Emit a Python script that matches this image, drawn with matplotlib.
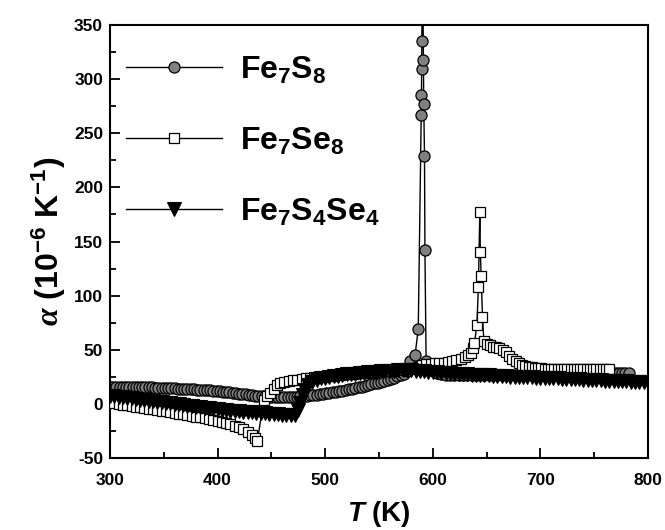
import numpy as np
import matplotlib.pyplot as plt
from matplotlib.ticker import MultipleLocator

plt.rcParams['font.family'] = 'Liberation Sans'
plt.rcParams['font.weight'] = 'bold'
plt.rcParams['axes.unicode_minus'] = False
plt.rcParams['mathtext.fontset'] = 'custom'
plt.rcParams['mathtext.rm'] = 'Liberation Sans:bold'
plt.rcParams['mathtext.bf'] = 'Liberation Sans:bold'
plt.rcParams['mathtext.it'] = 'Liberation Serif:italic'
plt.rcParams['mathtext.sf'] = 'Liberation Sans:bold:italic'
plt.rcParams['mathtext.default'] = 'bf'

#Fe7S8 (grey circles)
T_s8 = [300, 303, 306, 309, 312, 315, 318, 321, 324, 327,
        330, 333, 336, 339, 342, 345, 348, 351, 354, 357,
        360, 363, 366, 369, 372, 375, 378, 381, 384, 387,
        390, 393, 396, 399, 402, 405, 408, 411, 414, 417,
        420, 423, 426, 429, 432, 435, 438, 441, 444, 447,
        450, 453, 456, 459, 462, 465, 468, 471, 474, 477,
        480, 483, 486, 489, 492, 495, 498, 501, 504, 507,
        510, 513, 516, 519, 522, 525, 528, 531, 534, 537,
        540, 543, 546, 549, 552, 555, 558, 561, 564, 567,
        570, 573, 576,
        579, 583.5, 586.5, 589.3, 589.5, 589.6, 589.8, 590.5, 591.3, 591.6,
        592.3, 592.7, 593.8, 596,
        600, 604, 608, 612, 616, 620, 624, 628, 632, 636,
        640, 644, 648, 652, 656, 660, 664, 668, 672, 676,
        680, 684, 688, 692, 696, 700, 704, 708, 712, 716,
        720, 724, 728, 732, 736, 740, 744, 748, 752, 756,
        760, 764, 767, 770, 773, 776, 779, 782]
a_s8 = [16, 16, 16, 15.9, 15.9, 15.8, 15.7, 15.7, 15.6, 15.5,
        15.4, 15.4, 15.3, 15.2, 15.1, 15, 14.9, 14.8, 14.6, 14.5,
        14.4, 14.2, 14.1, 13.9, 13.8, 13.6, 13.4, 13.3, 13.1, 12.9,
        12.7, 12.4, 12.2, 11.9, 11.6, 11.3, 11, 10.7, 10.3, 10,
        9.6, 9.2, 8.8, 8.5, 8.1, 7.7, 7.4, 7.1, 7, 6.8,
        6.7, 6.7, 6.6, 6.6, 6.6, 6.6, 6.6, 6.7, 6.8, 7,
        7.3, 7.5, 7.8, 8.1, 8.5, 8.9, 9.3, 9.7, 10.2, 10.6,
        11.1, 11.6, 12.2, 12.8, 13.4, 14, 14.6, 15.3, 15.9, 16.6,
        17.4, 18.1, 18.9, 19.7, 20.6, 21.5, 22.4, 23.3, 24.3, 25.4,
        26.6, 28, 30,
        40, 45, 69, 267, 285, 309, 335, 420, 318, 277,
        229, 142, 40, 35,
        30, 28.5, 27.5, 27, 27, 26.8, 26.8, 26.6, 26.6, 26.5,
        26.5, 26.4, 26.4, 26.4, 26.4, 26.4, 26.5, 26.5, 26.6, 26.6,
        26.7, 26.8, 27, 27.2, 27.3, 27.4, 27.5, 27.6, 27.7, 27.8,
        27.9, 28, 28, 28.1, 28.2, 28.3, 28.4, 28.4, 28.5, 28.6,
        28.6, 28.7, 29, 29, 29, 29, 29, 28.8]

#Fe7Se8 (open squares)
T_se8 = [300, 304, 308, 312, 316, 320, 324, 328, 332, 336,
         340, 344, 348, 352, 356, 360, 364, 368, 372, 376,
         380, 384, 388, 392, 396, 400, 404, 408, 412, 416,
         420, 424, 428, 432, 435, 437,
         443, 446, 449, 452, 455, 458, 462, 466, 470, 474,
         478, 482, 486, 490, 494, 498, 502, 506, 510, 514,
         518, 522, 526, 530, 534, 538, 542, 546, 550, 554,
         558, 562, 566, 570, 575, 580, 586, 590, 594, 598,
         602, 606, 610, 614, 618, 622, 626, 630, 633,
         635.3, 637.6, 638.7, 641, 642.4, 643.7, 644.2, 645, 646.2, 647.5,
         650, 653, 656, 659, 662, 665, 668, 671, 674, 677,
         680, 683, 686, 689, 692, 695, 698, 701, 704, 707,
         710, 713, 716, 719, 722, 725, 728, 731, 734, 737,
         740, 743, 746, 749, 752, 755, 758, 761, 764]
a_se8 = [1, 0.4, -0.2, -0.8, -1.4, -2, -2.6, -3.2, -3.8, -4.4,
         -5, -5.5, -6.1, -6.8, -7.5, -8.2, -8.9, -9.6, -10.3, -11,
         -11.7, -12.4, -13.1, -13.8, -14.6, -15.5, -16.5, -17.6, -18.8, -20.2,
         -21.8, -23.6, -25.8, -28.5, -31.5, -34,
         4, 7, 10, 14, 17, 19.2, 20.2, 21, 21.8, 22.5,
         23, 23.5, 24, 24.4, 24.8, 25.2, 25.6, 26, 26.4, 26.8,
         27.2, 27.6, 28, 28.3, 28.6, 28.9, 29.2, 29.5, 29.8, 30.1,
         30.4, 30.7, 31, 31.3, 31.8, 32.5, 34.5, 35.8, 36.5, 37,
         37.4, 37.8, 38.2, 38.7, 39.4, 40.4, 41.8, 43.5, 45.5,
         47, 52, 56, 73, 108, 177, 140, 118, 80, 58,
         55, 54, 53, 52.5, 52, 50, 47.5, 44, 41.5, 39.5,
         37.5, 36, 35, 34.3, 33.8, 33.3, 33, 32.8, 32.7, 32.6,
         32.5, 32.5, 32.4, 32.4, 32.4, 32.3, 32.3, 32.3, 32.3, 32.2,
         32.2, 32.2, 32.2, 32.2, 32.2, 32.2, 32.2, 32.2, 32.2]

#Fe7S4Se4 (filled down triangles)
T_mix = [300, 304, 308, 312, 316, 320, 324, 328, 332, 336,
         340, 344, 348, 352, 356, 360, 364, 368, 372, 376,
         380, 384, 388, 392, 396, 400, 404, 408, 412, 416,
         420, 424, 428, 432, 436, 440, 444, 448, 452, 456,
         460, 464, 468, 472, 475, 477, 479, 481, 484, 488,
         492, 496, 500, 504, 508, 512, 516, 520, 524, 528,
         532, 536, 540, 544, 548, 552, 556, 560, 564, 568,
         572, 576, 580, 584, 588, 592, 596, 600, 604, 608,
         612, 616, 620, 624, 628, 632, 636, 640, 644, 648,
         652, 656, 660, 664, 668, 672, 676, 680, 684, 688,
         692, 696, 700, 704, 708, 712, 716, 720, 724, 728,
         732, 736, 740, 744, 748, 752, 756, 760, 764, 768,
         772, 776, 780, 784, 788, 792, 796, 800]
a_mix = [7.5, 7, 6.5, 6, 5.5, 5, 4.5, 4, 3.5, 3,
         2.5, 2, 1.5, 1, 0.5, 0, -0.5, -1, -1.5, -2,
         -2.5, -3, -3.5, -4, -4.5, -5, -5.4, -5.8, -6.2, -6.5,
         -6.8, -7.1, -7.4, -7.7, -8, -8.3, -8.6, -8.9, -9.2, -9.5,
         -9.8, -10.1, -10.4, -10.2, -6, 1, 8, 13, 17, 20.5,
         22.5, 23.5, 24.3, 25, 25.6, 26.2, 26.7, 27.2, 27.6, 28,
         28.4, 28.8, 29.1, 29.4, 29.7, 30, 30.3, 30.5, 30.7, 30.9,
         31, 31.1, 31, 30.8, 30.5, 30.2, 29.8, 29.4, 29.1, 28.8,
         28.5, 28.2, 28, 27.8, 27.5, 27.3, 27.1, 26.9, 26.7, 26.5,
         26.3, 26.1, 25.9, 25.7, 25.5, 25.3, 25.1, 24.9, 24.7, 24.6,
         24.4, 24.3, 24.2, 24, 23.8, 23.6, 23.5, 23.3, 23.1, 23,
         22.8, 22.6, 22.5, 22.3, 22.1, 22, 21.8, 21.6, 21.5, 21.3,
         21.1, 21, 20.8, 20.6, 20.5, 20.3, 20.1, 20]

labels = [r'Fe$_7$S$_8$', r'Fe$_7$Se$_8$', r'Fe$_7$S$_4$Se$_4$']

fig = plt.figure(figsize=(6.65, 5.3), dpi=100)
ax = fig.add_axes([0.1654, 0.1358, 0.809, 0.817])

ax.plot(T_s8, a_s8, 'o-', color='black', lw=1, ms=8, mfc='#808080', mec='black',
        mew=0.9, label=labels[0], zorder=2)
ax.plot(T_se8, a_se8, 's-', color='black', lw=1, ms=6.5, mfc='white', mec='black',
        mew=0.9, label=labels[1], zorder=3)
ax.plot(T_mix, a_mix, 'v-', color='black', lw=1, ms=9.5, mfc='black', mec='black',
        mew=0.8, label=labels[2], zorder=4)

ax.set_xlim(300, 800)
ax.set_ylim(-50, 350)
ax.xaxis.set_major_locator(MultipleLocator(100))
ax.xaxis.set_minor_locator(MultipleLocator(50))
ax.yaxis.set_major_locator(MultipleLocator(50))
ax.yaxis.set_minor_locator(MultipleLocator(25))
ax.tick_params(which='both', direction='in', top=False, right=False, width=1.3)
ax.tick_params(which='major', length=7, labelsize=12.5)
ax.tick_params(which='minor', length=4)
ax.tick_params(axis='x', which='major', pad=11)
ax.tick_params(axis='y', which='major', pad=5)
for lab in ax.get_xticklabels() + ax.get_yticklabels():
    lab.set_fontweight('bold')
for sp in ax.spines.values():
    sp.set_linewidth(1.5)

ax.set_xlabel(r'$\mathsf{T}$ (K)', fontsize=20, fontweight='bold', labelpad=8)
ax.set_ylabel(r'$\mathit{\alpha}$ (10$^{-6}$ K$^{-1}$)', fontsize=23, fontweight='bold', labelpad=4)

ax.legend(loc='center left', bbox_to_anchor=(0.03, 0.732), frameon=False, borderpad=0,
          borderaxespad=0, numpoints=1, handlelength=3.0, handletextpad=0.55,
          labelspacing=1.25, prop={'weight': 'bold', 'size': 23})

fig.savefig('out.png', dpi=100)
